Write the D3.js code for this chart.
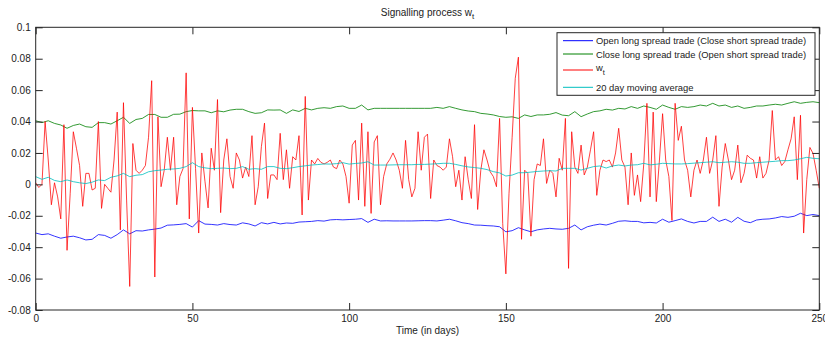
<!DOCTYPE html>
<html>
<head>
<meta charset="utf-8">
<script src="https://cdn.jsdelivr.net/npm/d3@7"></script>
<style>
  html, body { margin: 0; padding: 0; background: #fff; }
  svg { display: block; }
  text { font-family: "Liberation Sans", Arial, Helvetica, sans-serif; font-size: 10px; fill: #222; }
</style>
</head>
<body>
<svg id="chart" width="825" height="337"></svg>
<script>
// ---- data ----
const xTicks = [0, 50, 100, 150, 200, 250];
const yTicks = [-0.08, -0.06, -0.04, -0.02, 0, 0.02, 0.04, 0.06, 0.08, 0.1];
const yTickLabels = ["-0.08", "-0.06", "-0.04", "-0.02", "0", "0.02", "0.04", "0.06", "0.08", "0.1"];
const seriesNames = [
  "Open long spread trade (Close short spread trade)",
  "Close long spread trade (Open short spread trade)",
  "w",
  "20 day moving average"
];
const seriesColors = ["#0000ff", "#008000", "#ff0000", "#00bfbf"];

// daily signal w_t, days 0..250
const signal = [
  0.001,-0.002,0.000,0.040,0.0155,-0.013,0.001,-0.008,-0.022,0.038,
  -0.042,-0.006,0.0335,0.023,0.012,-0.014,0.007,0.007,-0.0036,-0.0025,
  0.040,-0.0153,0.000,-0.0025,-0.005,0.0155,0.046,-0.029,0.052,-0.010,
  -0.065,0.026,0.009,0.007,0.009,0.012,0.030,0.066,-0.059,0.043,
  -0.0015,0.009,0.030,0.009,0.030,-0.013,0.005,0.010,0.071,-0.022,
  0.049,0.010,-0.031,0.020,0.002,-0.015,0.023,0.009,0.054,-0.018,
  0.0155,0.029,0.005,-0.0025,0.020,0.0155,0.004,0.011,0.005,0.031,
  -0.013,-0.0015,0.024,0.039,-0.009,0.006,0.006,0.003,0.0325,0.003,
  0.022,-0.0025,0.0176,0.0155,0.031,-0.0195,0.056,-0.010,0.0155,0.013,
  0.0165,0.014,0.013,0.014,0.0155,0.011,0.010,0.0155,0.013,0.005,
  -0.012,0.025,0.028,-0.010,0.039,-0.014,0.0335,-0.0185,0.027,0.031,
  -0.013,0.005,0.013,0.016,0.020,0.0155,0.009,-0.0025,0.028,0.003,
  -0.008,-0.0025,0.0335,0.009,0.030,0.032,-0.009,0.0155,0.012,0.011,
  0.009,0.011,0.029,0.0176,-0.0015,0.009,-0.010,0.0176,0.003,-0.009,
  0.038,-0.016,0.009,0.022,0.0155,0.008,0.005,-0.0015,0.042,-0.025,
  -0.057,-0.006,0.030,0.0675,0.081,-0.035,0.009,0.007,-0.033,0.003,
  0.013,0.012,0.029,0.0006,0.009,0.007,-0.008,0.0166,0.009,0.042,
  -0.0535,0.0335,0.011,0.007,0.025,0.006,0.011,0.022,0.0335,-0.007,
  0.009,0.0155,0.0145,0.0155,0.011,0.020,0.0357,0.0155,0.011,-0.013,
  0.020,-0.007,0.006,-0.011,0.013,0.0516,-0.008,0.046,-0.011,0.0155,
  0.045,0.0155,0.005,-0.023,0.0516,0.028,0.037,0.0155,0.009,-0.008,
  0.009,0.0155,0.007,0.0155,0.030,0.007,0.0155,0.031,-0.014,0.011,
  0.026,0.0155,0.003,0.009,0.025,0.001,0.007,0.0186,0.0166,0.0155,
  0.004,0.0176,0.004,0.007,0.0155,0.047,0.0155,0.0176,0.012,0.0145,
  0.022,0.029,0.043,0.003,0.044,-0.031,0.003,0.0235,0.0197,0.009,
  -0.0025
];

// thresholds and moving average, read every 2 days (0,2,...,250)
const lowerBand = [
  -0.031,-0.032,-0.0315,-0.033,-0.0343,-0.0335,-0.033,-0.034,-0.0354,-0.035,
  -0.032,-0.0325,-0.0343,-0.032,-0.029,-0.0315,-0.0295,-0.0297,-0.029,-0.0285,
  -0.0278,-0.026,-0.0258,-0.0255,-0.025,-0.0272,-0.0231,-0.0253,-0.0255,-0.0259,
  -0.025,-0.0256,-0.0259,-0.0245,-0.0252,-0.0265,-0.0244,-0.0252,-0.0242,-0.0252,
  -0.0246,-0.0248,-0.024,-0.0238,-0.0236,-0.0231,-0.0234,-0.0226,-0.0224,-0.0226,
  -0.0224,-0.0222,-0.0218,-0.0242,-0.0222,-0.0233,-0.0232,-0.0233,-0.0233,-0.0233,
  -0.0233,-0.0232,-0.0231,-0.0231,-0.0233,-0.0228,-0.0222,-0.0232,-0.0244,-0.025,
  -0.0259,-0.026,-0.0263,-0.0265,-0.027,-0.0302,-0.0295,-0.0276,-0.029,-0.0302,
  -0.029,-0.0284,-0.028,-0.0284,-0.0286,-0.028,-0.0259,-0.029,-0.027,-0.026,
  -0.0253,-0.0259,-0.0248,-0.0235,-0.0232,-0.0236,-0.0236,-0.0245,-0.0242,-0.0246,
  -0.0222,-0.0241,-0.0231,-0.022,-0.0236,-0.0246,-0.0236,-0.0236,-0.0209,-0.0236,
  -0.0222,-0.0241,-0.021,-0.0235,-0.0244,-0.0227,-0.0222,-0.022,-0.0214,-0.0205,
  -0.021,-0.0203,-0.0184,-0.0199,-0.0192,-0.0199
];
const upperBand = [
  0.0405,0.0393,0.0405,0.0388,0.0378,0.0357,0.0375,0.0384,0.0367,0.0363,
  0.0393,0.0393,0.0384,0.0405,0.0427,0.0388,0.0413,0.042,0.0445,0.0445,
  0.0427,0.0427,0.0446,0.0447,0.0463,0.047,0.0468,0.0468,0.0456,0.0468,
  0.0462,0.0473,0.0478,0.0478,0.0463,0.0452,0.0456,0.0474,0.0473,0.0474,
  0.0452,0.0474,0.0464,0.0484,0.0474,0.0484,0.0488,0.0484,0.0495,0.0499,
  0.0484,0.0484,0.0505,0.0474,0.0484,0.0484,0.0484,0.0484,0.0484,0.0484,
  0.0484,0.0484,0.0484,0.0484,0.049,0.0484,0.0495,0.0484,0.0474,0.0467,
  0.0463,0.0452,0.0448,0.0442,0.0432,0.0427,0.043,0.042,0.0442,0.0432,
  0.0442,0.0442,0.0446,0.0457,0.0441,0.0437,0.0463,0.0431,0.0448,0.0463,
  0.0468,0.0478,0.0473,0.0484,0.048,0.0495,0.0484,0.0499,0.049,0.0478,
  0.0505,0.049,0.0478,0.0495,0.049,0.0495,0.0505,0.0499,0.0516,0.0499,
  0.0505,0.049,0.0499,0.0484,0.049,0.0499,0.0499,0.0505,0.051,0.0505,
  0.0516,0.0526,0.0516,0.0522,0.0526,0.052
];
const movingAvg = [
  0.0049,0.0032,0.0045,0.0025,0.0017,0.0028,0.0017,0.001,0.0005,0.0014,
  0.0028,0.0024,0.0045,0.0054,0.007,0.0049,0.0058,0.0062,0.008,0.0087,
  0.0091,0.0096,0.0098,0.0102,0.0113,0.0138,0.0113,0.0105,0.01,0.0102,
  0.0104,0.01,0.0102,0.0113,0.0096,0.01,0.0096,0.0113,0.0113,0.0102,
  0.01,0.0106,0.0113,0.0118,0.0123,0.0126,0.013,0.0129,0.0132,0.0138,
  0.0129,0.0133,0.0136,0.0144,0.0123,0.0123,0.0123,0.0124,0.0125,0.0125,
  0.0125,0.0127,0.0127,0.0129,0.0131,0.0134,0.0134,0.0127,0.0118,0.0111,
  0.0107,0.0102,0.0094,0.0081,0.0073,0.0053,0.0059,0.0074,0.0074,0.0078,
  0.0082,0.0085,0.0087,0.0085,0.0102,0.0102,0.0102,0.0091,0.0102,0.0113,
  0.0117,0.0104,0.0117,0.0123,0.0117,0.0123,0.0125,0.0134,0.0124,0.0128,
  0.0134,0.0132,0.013,0.013,0.0132,0.0135,0.0138,0.0141,0.0144,0.0138,
  0.0141,0.0144,0.0141,0.0134,0.0134,0.0138,0.0141,0.0144,0.0147,0.0151,
  0.0151,0.0155,0.0163,0.0172,0.0166,0.0163
];

// ---- drawing ----
(function draw() {
  const svg = d3.select("#chart");
  const pL = 35.7, pR = 819.3, pT = 27.3, pB = 310;
  const x = d3.scaleLinear().domain([0, 250]).range([pL, pR]);
  const y = d3.scaleLinear().domain([-0.08, 0.1]).range([pB, pT]);

  const dailyPts = signal.map((v, i) => [i, v]);
  const bandPts = arr => arr.map((v, i) => [i * 2, v]);
  const line = d3.line().x(d => x(d[0])).y(d => y(d[1]));

  const plot = svg.append("g");
  const series = [bandPts(lowerBand), bandPts(upperBand), dailyPts, bandPts(movingAvg)];
  const widths = [0.8, 0.8, 0.75, 0.8];
  series.forEach((pts, i) => {
    plot.append("path")
      .attr("d", line(pts))
      .attr("fill", "none")
      .attr("stroke", seriesColors[i])
      .attr("stroke-width", widths[i])
      .attr("stroke-linejoin", "miter");
  });

  const axisColor = "#262626";
  function styleAxis(g) {
    g.select(".domain").remove();
    g.selectAll(".tick line").attr("stroke", axisColor);
    g.selectAll(".tick text").attr("fill", "#222")
      .style("font-family", "'Liberation Sans', Arial, sans-serif").style("font-size", "10px");
  }
  svg.append("g").attr("transform", `translate(0,${pB})`)
    .call(d3.axisBottom(x).tickValues(xTicks).tickSize(-7).tickSizeOuter(0).tickPadding(5).tickFormat(d3.format("d")))
    .call(styleAxis);
  svg.append("g").attr("transform", `translate(0,${pT})`)
    .call(d3.axisTop(x).tickValues(xTicks).tickSize(-7).tickSizeOuter(0).tickFormat(""))
    .call(styleAxis);
  svg.append("g").attr("transform", `translate(${pL},0)`)
    .call(d3.axisLeft(y).tickValues(yTicks).tickSize(-7).tickSizeOuter(0).tickPadding(5)
      .tickFormat((d, i) => yTickLabels[i]))
    .call(styleAxis);
  svg.append("g").attr("transform", `translate(${pR},0)`)
    .call(d3.axisRight(y).tickValues(yTicks).tickSize(-7).tickSizeOuter(0).tickFormat(""))
    .call(styleAxis);

  svg.append("rect")
    .attr("x", pL).attr("y", pT)
    .attr("width", pR - pL).attr("height", pB - pT)
    .attr("fill", "none").attr("stroke", axisColor).attr("stroke-width", 1);

  const title = svg.append("text").attr("x", (pL + pR) / 2).attr("y", 15.5).attr("text-anchor", "middle");
  title.append("tspan").text("Signalling process w");
  title.append("tspan").attr("dy", 3).style("font-size", "8px").text("t");

  svg.append("text").attr("x", (pL + pR) / 2).attr("y", 333.5).attr("text-anchor", "middle").text("Time (in days)");

  const leg = svg.append("g");
  leg.append("rect").attr("x", 557).attr("y", 32.7).attr("width", 258).attr("height", 62.6)
    .attr("fill", "#fff").attr("stroke", axisColor).attr("stroke-width", 1);
  const rowY = [40.7, 54, 70, 87.3];
  const textY = [44.3, 57.7, 71, 91];
  seriesNames.forEach((name, i) => {
    leg.append("line").attr("x1", 563).attr("x2", 593).attr("y1", rowY[i]).attr("y2", rowY[i])
      .attr("stroke", seriesColors[i]).attr("stroke-width", 1);
    const t = leg.append("text").attr("x", 596).attr("y", textY[i]).style("font-size", "9.4px");
    t.append("tspan").text(name);
    if (i === 2) t.append("tspan").attr("dy", 3.5).style("font-size", "7.5px").text("t");
  });
})();
</script>
</body>
</html>
